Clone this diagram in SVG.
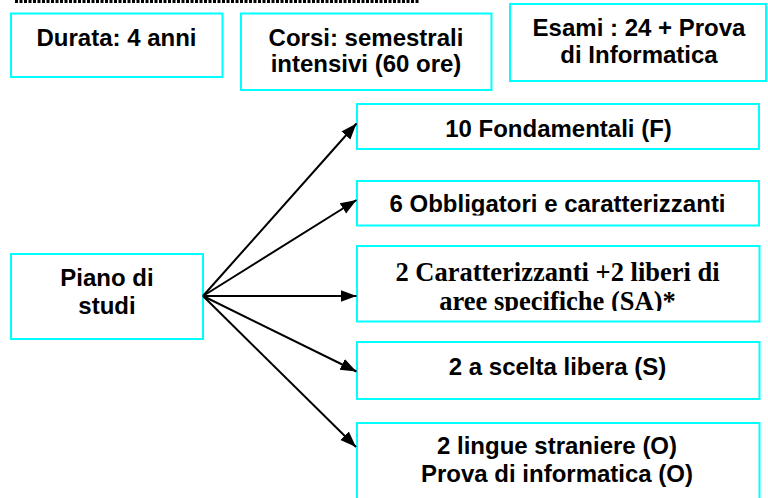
<svg xmlns="http://www.w3.org/2000/svg" width="768" height="498" viewBox="0 0 768 498">
<style>
.box{fill:#fff;stroke:#00ffff;stroke-width:2}
.t{font-family:"Liberation Sans",Arial,sans-serif;font-weight:bold;font-size:24px;fill:#000;text-anchor:middle}
.s{font-family:"Liberation Serif","Times New Roman",serif;font-weight:bold;font-size:26.5px;fill:#000;text-anchor:middle}
.c{stroke:#000;stroke-width:2;fill:none;marker-end:url(#ah)}
</style>
<defs>
<marker id="ah" markerUnits="userSpaceOnUse" markerWidth="17" markerHeight="13" refX="16" refY="6" orient="auto" viewBox="0 0 17 13">
<path d="M0,0 L16,6 L0,12 z" fill="#000"/>
</marker>
<clipPath id="clipO"><rect x="357" y="181" width="402" height="34.5"/></clipPath>
<clipPath id="clipSA"><rect x="357" y="246" width="402" height="65"/></clipPath>
</defs>
<rect width="768" height="498" fill="#fff"/>
<line x1="15" y1="1.5" x2="420" y2="1.5" stroke="#000" stroke-width="3" stroke-dasharray="3 1.5"/>
<g id="durata">
<rect class="box" x="11" y="13.5" width="211.5" height="63.5"/>
<text class="t" x="116.5" y="46">Durata: 4 anni</text>
</g>
<g id="corsi">
<rect class="box" x="241" y="13.5" width="250.5" height="76.5"/>
<text class="t" x="366" y="45.7">Corsi: semestrali</text>
<text class="t" x="366" y="71.7">intensivi (60 ore)</text>
</g>
<g id="esami">
<rect class="box" x="510" y="4" width="256" height="77"/>
<text class="t" x="639" y="36">Esami : 24 + Prova</text>
<text class="t" x="639" y="63">di Informatica</text>
</g>
<g id="piano">
<rect class="box" x="11" y="254" width="192" height="85"/>
<text class="t" x="107" y="285.7">Piano di</text>
<text class="t" x="107" y="314">studi</text>
</g>
<g id="fondamentali">
<rect class="box" x="357" y="104" width="402" height="45"/>
<text class="t" x="558.5" y="136.7">10 Fondamentali (F)</text>
</g>
<g id="obbligatori">
<rect class="box" x="357" y="181" width="402" height="44.5"/>
<text class="t" x="557.5" y="212" clip-path="url(#clipO)">6 Obbligatori e caratterizzanti</text>
</g>
<g id="caratterizzanti">
<rect class="box" x="357" y="246" width="402.5" height="75.5"/>
<g clip-path="url(#clipSA)">
<text class="s" x="557.5" y="281">2 Caratterizzanti +2 liberi di</text>
<text class="s" x="557.5" y="309.5">aree specifiche (SA)*</text>
</g>
</g>
<g id="scelta">
<rect class="box" x="357" y="342" width="402.5" height="57"/>
<text class="t" x="557.5" y="375">2 a scelta libera (S)</text>
</g>
<g id="lingue">
<rect class="box" x="357" y="423" width="402.5" height="80"/>
<text class="t" x="557" y="454">2 lingue straniere (O)</text>
<text class="t" x="557" y="481.5">Prova di informatica (O)</text>
</g>
<g id="connectors">
<line class="c" x1="203" y1="296" x2="356.5" y2="123.5"/>
<line class="c" x1="203" y1="296" x2="356.5" y2="200"/>
<line class="c" x1="203" y1="296" x2="356.5" y2="296"/>
<line class="c" x1="203" y1="296" x2="356.5" y2="371.5"/>
<line class="c" x1="203" y1="296" x2="356" y2="447"/>
</g>
</svg>
